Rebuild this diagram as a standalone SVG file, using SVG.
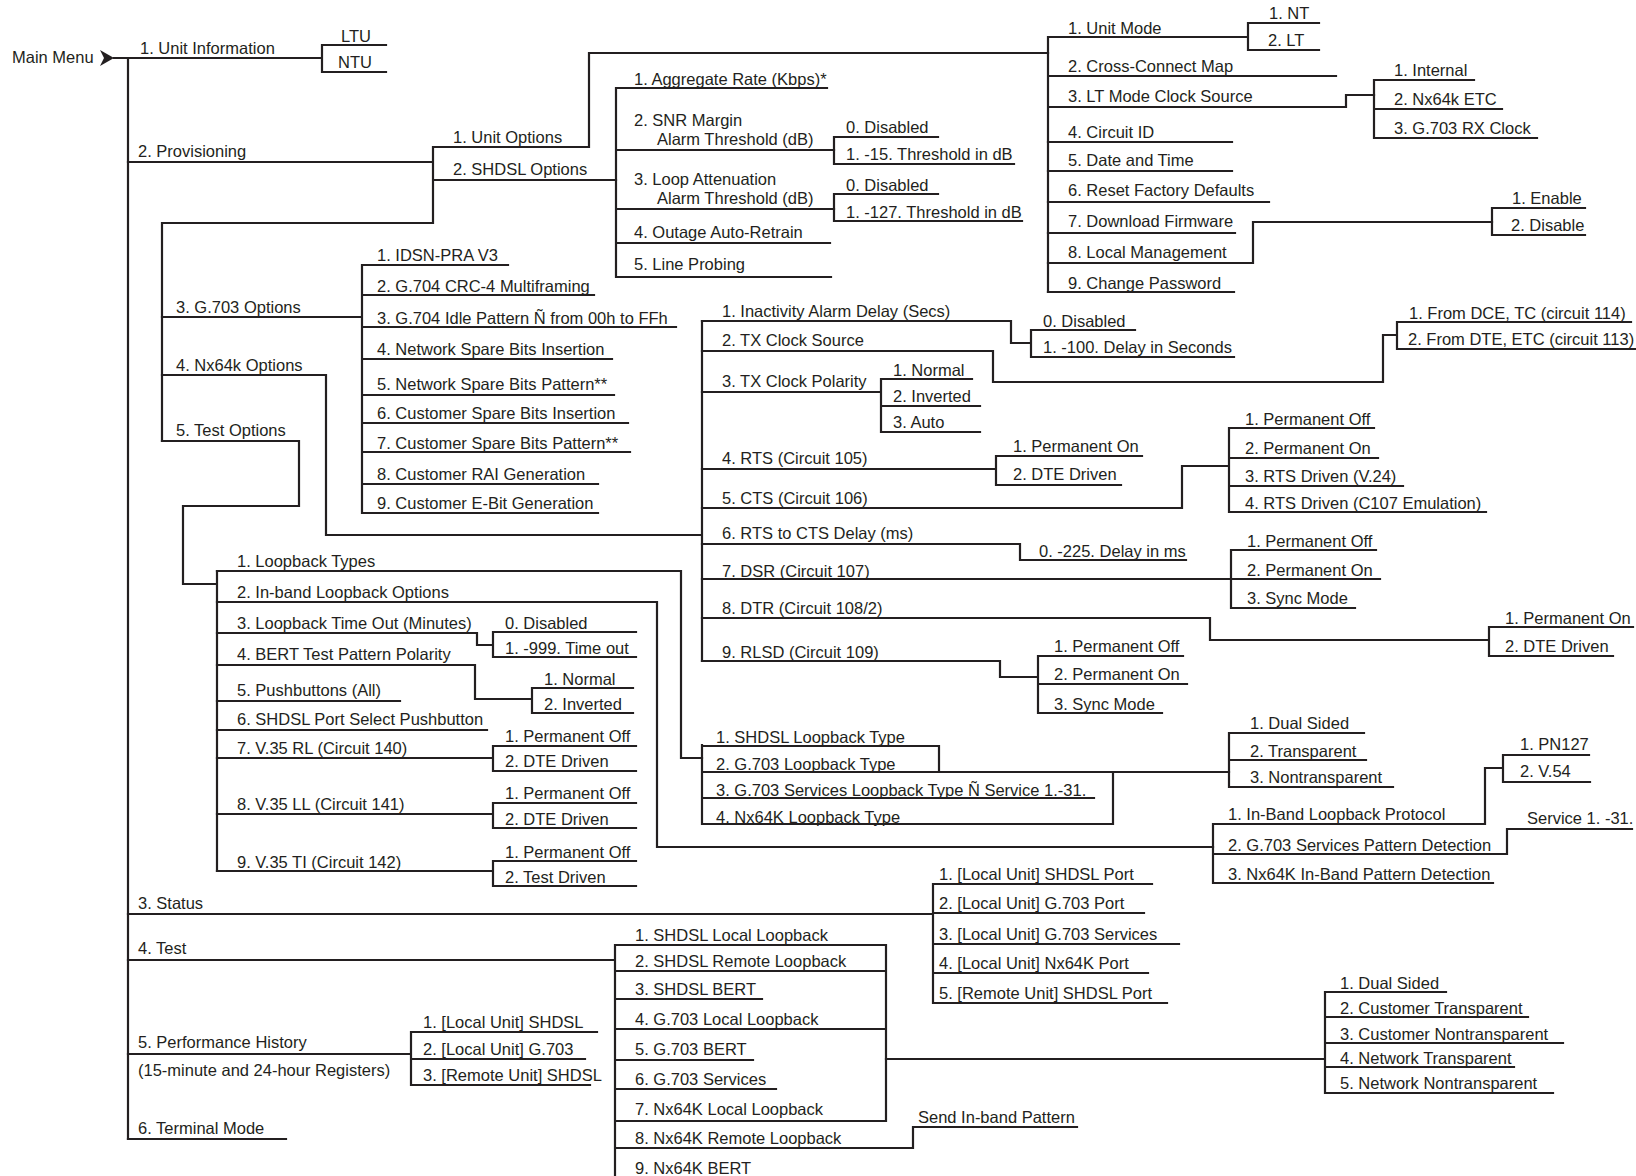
<svg xmlns="http://www.w3.org/2000/svg" width="1636" height="1176" viewBox="0 0 1636 1176">
<style>
text{font-family:"Liberation Sans",Arial,Helvetica,sans-serif;font-size:16.5px;fill:#231f20}
#connectors path{fill:none;stroke:#231f20;stroke-width:2.2;stroke-linejoin:miter;stroke-linecap:square}
</style>
<rect width="1636" height="1176" fill="#ffffff"/>
<g id="connectors">
<polygon points="100,50 114,58 100,66 104,58" fill="#231f20"/>
<path d="M114,58 H322 M128,58 V1139 M322,45 V72 M322,45 H386 M322,72 H386"/>
<path d="M128,162 H433 M433,147 V223 M162,223 H433 M162,223 V441 M433,147 H589 V53 H1048 M433,180 H616"/>
<path d="M616,88 V277 M616,88 H827 M616,150 H834 M616,209 H834 M616,243 H830 M616,277 H831"/>
<path d="M834,137 V164 M834,137 H938 M834,164 H1014 M834,194 V221 M834,194 H938 M834,221 H1022"/>
<path d="M1048,37 V292 M1048,37 H1248 M1248,23 V50 M1248,23 H1319 M1248,50 H1319 M1048,76 H1336 M1048,107 H1346 V95 H1374"/>
<path d="M1374,80 V138 M1374,80 H1474 M1374,109 H1502 M1374,138 H1537"/>
<path d="M1048,142 H1232 M1048,171 H1232 M1048,202 H1269 M1048,233 H1235 M1048,263 H1253 V222 H1492 M1048,292 H1234"/>
<path d="M1492,208 V235 M1492,208 H1585 M1492,235 H1585"/>
<path d="M162,317 H362 M362,265 V513 M362,265 H508 M362,295 H594 M362,327 H676 M362,359 H612 M362,395 H614 M362,423 H628 M362,452 H630 M362,484 H598 M362,513 H598"/>
<path d="M162,375 H326 V535 H702 M702,321 V661"/>
<path d="M702,321 H1011 V343 H1031 M1031,330 V357 M1031,330 H1135 M1031,357 H1234"/>
<path d="M702,351 H993 V382 H1383 V335 H1397 M1397,322 V349 M1397,322 H1631 M1397,349 H1636"/>
<path d="M702,392 H881 M881,379 V432 M881,379 H972 M881,406 H980 M881,432 H980"/>
<path d="M702,469 H996 M996,456 V485 M996,456 H1142 M996,485 H1121"/>
<path d="M702,508 H1182 V466 H1229 M1229,428 V512 M1229,428 H1374 M1229,458 H1378 M1229,486 H1403 M1229,512 H1486"/>
<path d="M702,544 H1020 V560 H1186"/>
<path d="M702,579 H1380 M1231,550 V608 M1231,550 H1376 M1231,608 H1355"/>
<path d="M702,618 H1210 V640 H1489 M1489,627 V656 M1489,627 H1633 M1489,656 H1613"/>
<path d="M702,661 H1000 V677 H1038 M1038,656 V713 M1038,656 H1183 M1038,684 H1187 M1038,713 H1162"/>
<path d="M162,441 H299 V506 H183 V584 H217 M217,571 V871"/>
<path d="M217,571 H681 V758 H702 M217,602 H657 V847 H1213"/>
<path d="M217,633 H477 V645 H493 M493,632 V657 M493,632 H636 M493,657 H636"/>
<path d="M217,665 H475 V699 H532 M532,688 V713 M532,688 H633 M532,713 H633"/>
<path d="M217,701 H400 M217,730 H487"/>
<path d="M217,758 H493 M493,746 V771 M493,746 H636 M493,771 H636"/>
<path d="M217,814 H493 M493,803 V828 M493,803 H636 M493,828 H636"/>
<path d="M217,871 H493 M493,861 V886 M493,861 H636 M493,886 H636"/>
<path d="M702,745 V824 M702,746 H939 V772 M702,772 H1229 M702,798 H1094 M702,824 H1113 V772"/>
<path d="M1229,733 V787 M1229,733 H1364 M1229,760 H1366 M1229,787 H1393"/>
<path d="M1213,824 V883 M1213,824 H1485 V768 H1503 M1503,755 V782 M1503,755 H1589 M1503,782 H1590 M1213,854 H1507 V829 H1632 M1213,883 H1493"/>
<path d="M128,914 H933 M933,884 V1003 M933,884 H1152 M933,913 H1144 M933,944 H1179 M933,973 H1148 M933,1003 H1167"/>
<path d="M128,960 H615 M615,945 V1176 M615,945 H886 M615,971 H886 M615,999 H762 M615,1029 H886 M615,1060 H753 M615,1089 H776 M615,1121 H886 M886,945 V1121 M615,1148 H913 V1127 H1077"/>
<path d="M886,1059 H1325 M1325,992 V1093 M1325,992 H1446 M1325,1017 H1528 M1325,1043 H1563 M1325,1067 H1514 M1325,1093 H1553"/>
<path d="M128,1054 H411 M411,1032 V1085 M411,1032 H597 M411,1059 H585 M411,1085 H590"/>
<path d="M128,1139 H286"/>
</g>
<g id="nodes" transform="translate(0,1.5)">
<g id="main-menu"><text x="12" y="61">Main Menu</text></g>
<g id="unit-information"><text x="140" y="52">1. Unit Information</text></g>
<g id="ltu"><text x="341" y="40.5">LTU</text></g>
<g id="ntu"><text x="338" y="66.5">NTU</text></g>
<g id="provisioning"><text x="138" y="155">2. Provisioning</text></g>
<g id="unit-options"><text x="453" y="141">1. Unit Options</text></g>
<g id="shdsl-options"><text x="453" y="173">2. SHDSL Options</text></g>
<g id="aggregate-rate"><text x="634" y="83">1. Aggregate Rate (Kbps)*</text></g>
<g id="snr-margin"><text x="634" y="124">2. SNR Margin</text><text x="657" y="143">Alarm Threshold (dB)</text></g>
<g id="loop-attenuation"><text x="634" y="183">3. Loop Attenuation</text><text x="657" y="202">Alarm Threshold (dB)</text></g>
<g id="outage-auto-retrain"><text x="634" y="236">4. Outage Auto-Retrain</text></g>
<g id="line-probing"><text x="634" y="268">5. Line Probing</text></g>
<g id="snr-disabled"><text x="846" y="131">0. Disabled</text></g>
<g id="snr-threshold"><text x="846" y="158">1. -15. Threshold in dB</text></g>
<g id="loop-disabled"><text x="846" y="189">0. Disabled</text></g>
<g id="loop-threshold"><text x="846" y="216">1. -127. Threshold in dB</text></g>
<g id="unit-mode"><text x="1068" y="32">1. Unit Mode</text></g>
<g id="nt"><text x="1269" y="17.5">1. NT</text></g>
<g id="lt"><text x="1268" y="44">2. LT</text></g>
<g id="cross-connect"><text x="1068" y="70">2. Cross-Connect Map</text></g>
<g id="lt-clock"><text x="1068" y="100">3. LT Mode Clock Source</text></g>
<g id="internal"><text x="1394" y="74">1. Internal</text></g>
<g id="nx64k-etc"><text x="1394" y="103">2. Nx64k ETC</text></g>
<g id="g703-rx"><text x="1394" y="132">3. G.703 RX Clock</text></g>
<g id="circuit-id"><text x="1068" y="136">4. Circuit ID</text></g>
<g id="date-time"><text x="1068" y="164">5. Date and Time</text></g>
<g id="reset-defaults"><text x="1068" y="194">6. Reset Factory Defaults</text></g>
<g id="download-fw"><text x="1068" y="225">7. Download Firmware</text></g>
<g id="local-mgmt"><text x="1068" y="256">8. Local Management</text></g>
<g id="enable"><text x="1512" y="202">1. Enable</text></g>
<g id="disable"><text x="1511" y="229">2. Disable</text></g>
<g id="change-password"><text x="1068" y="287">9. Change Password</text></g>
<g id="g703-options"><text x="176" y="311">3. G.703 Options</text></g>
<g id="g703-1"><text x="377" y="259">1. IDSN-PRA V3</text></g>
<g id="g703-2"><text x="377" y="290">2. G.704 CRC-4 Multiframing</text></g>
<g id="g703-3"><text x="377" y="322">3. G.704 Idle Pattern Ñ from 00h to FFh</text></g>
<g id="g703-4"><text x="377" y="353">4. Network Spare Bits Insertion</text></g>
<g id="g703-5"><text x="377" y="388">5. Network Spare Bits Pattern**</text></g>
<g id="g703-6"><text x="377" y="417">6. Customer Spare Bits Insertion</text></g>
<g id="g703-7"><text x="377" y="447">7. Customer Spare Bits Pattern**</text></g>
<g id="g703-8"><text x="377" y="478">8. Customer RAI Generation</text></g>
<g id="g703-9"><text x="377" y="507">9. Customer E-Bit Generation</text></g>
<g id="nx64k-options"><text x="176" y="369">4. Nx64k Options</text></g>
<g id="inactivity"><text x="722" y="315">1. Inactivity Alarm Delay (Secs)</text></g>
<g id="inact-disabled"><text x="1043" y="325">0. Disabled</text></g>
<g id="inact-delay"><text x="1043" y="351">1. -100. Delay in Seconds</text></g>
<g id="tx-clock-source"><text x="722" y="344">2. TX Clock Source</text></g>
<g id="from-dce"><text x="1409" y="317">1. From DCE, TC (circuit 114)</text></g>
<g id="from-dte"><text x="1408" y="343">2. From DTE, ETC (circuit 113)</text></g>
<g id="tx-clock-polarity"><text x="722" y="385">3. TX Clock Polarity</text></g>
<g id="pol-normal"><text x="893" y="374">1. Normal</text></g>
<g id="pol-inverted"><text x="893" y="400">2. Inverted</text></g>
<g id="pol-auto"><text x="893" y="426">3. Auto</text></g>
<g id="rts"><text x="722" y="462">4. RTS (Circuit 105)</text></g>
<g id="rts-on"><text x="1013" y="450">1. Permanent On</text></g>
<g id="rts-dte"><text x="1013" y="478">2. DTE Driven</text></g>
<g id="cts"><text x="722" y="502">5. CTS (Circuit 106)</text></g>
<g id="cts-1"><text x="1245" y="423">1. Permanent Off</text></g>
<g id="cts-2"><text x="1245" y="452">2. Permanent On</text></g>
<g id="cts-3"><text x="1245" y="480">3. RTS Driven (V.24)</text></g>
<g id="cts-4"><text x="1245" y="507">4. RTS Driven (C107 Emulation)</text></g>
<g id="rts-cts-delay"><text x="722" y="537">6. RTS to CTS Delay (ms)</text></g>
<g id="delay-ms"><text x="1039" y="555">0. -225. Delay in ms</text></g>
<g id="dsr"><text x="722" y="575">7. DSR (Circuit 107)</text></g>
<g id="dsr-1"><text x="1247" y="545">1. Permanent Off</text></g>
<g id="dsr-2"><text x="1247" y="574">2. Permanent On</text></g>
<g id="dsr-3"><text x="1247" y="602">3. Sync Mode</text></g>
<g id="dtr"><text x="722" y="612">8. DTR (Circuit 108/2)</text></g>
<g id="dtr-1"><text x="1505" y="622">1. Permanent On</text></g>
<g id="dtr-2"><text x="1505" y="650">2. DTE Driven</text></g>
<g id="rlsd"><text x="722" y="656">9. RLSD (Circuit 109)</text></g>
<g id="rlsd-1"><text x="1054" y="650">1. Permanent Off</text></g>
<g id="rlsd-2"><text x="1054" y="678">2. Permanent On</text></g>
<g id="rlsd-3"><text x="1054" y="708">3. Sync Mode</text></g>
<g id="test-options"><text x="176" y="434">5. Test Options</text></g>
<g id="loopback-types"><text x="237" y="565">1. Loopback Types</text></g>
<g id="inband-options"><text x="237" y="596">2. In-band Loopback Options</text></g>
<g id="loopback-timeout"><text x="237" y="627">3. Loopback Time Out (Minutes)</text></g>
<g id="to-disabled"><text x="505" y="627">0. Disabled</text></g>
<g id="to-timeout"><text x="505" y="652">1. -999. Time out</text></g>
<g id="bert-polarity"><text x="237" y="658">4. BERT Test Pattern Polarity</text></g>
<g id="bp-normal"><text x="544" y="683">1. Normal</text></g>
<g id="bp-inverted"><text x="544" y="708">2. Inverted</text></g>
<g id="pushbuttons"><text x="237" y="694">5. Pushbuttons (All)</text></g>
<g id="port-select"><text x="237" y="723">6. SHDSL Port Select Pushbutton</text></g>
<g id="v35-rl"><text x="237" y="752">7. V.35 RL (Circuit 140)</text></g>
<g id="rl-1"><text x="505" y="740">1. Permanent Off</text></g>
<g id="rl-2"><text x="505" y="765">2. DTE Driven</text></g>
<g id="v35-ll"><text x="237" y="808">8. V.35 LL (Circuit 141)</text></g>
<g id="ll-1"><text x="505" y="797">1. Permanent Off</text></g>
<g id="ll-2"><text x="505" y="823">2. DTE Driven</text></g>
<g id="v35-ti"><text x="237" y="866">9. V.35 TI (Circuit 142)</text></g>
<g id="ti-1"><text x="505" y="856">1. Permanent Off</text></g>
<g id="ti-2"><text x="505" y="881">2. Test Driven</text></g>
<g id="lt-shdsl"><text x="716" y="741">1. SHDSL Loopback Type</text></g>
<g id="lt-g703"><text x="716" y="768">2. G.703 Loopback Type</text></g>
<g id="lt-g703-services"><text x="716" y="794">3. G.703 Services Loopback Type Ñ Service 1.-31.</text></g>
<g id="lt-nx64k"><text x="716" y="821">4. Nx64K Loopback Type</text></g>
<g id="dual-sided"><text x="1250" y="727">1. Dual Sided</text></g>
<g id="transparent"><text x="1250" y="755">2. Transparent</text></g>
<g id="nontransparent"><text x="1250" y="781">3. Nontransparent</text></g>
<g id="inband-protocol"><text x="1228" y="818">1. In-Band Loopback Protocol</text></g>
<g id="pn127"><text x="1520" y="748">1. PN127</text></g>
<g id="v54"><text x="1520" y="775">2. V.54</text></g>
<g id="g703-pattern"><text x="1228" y="849">2. G.703 Services Pattern Detection</text></g>
<g id="service-1-31"><text x="1527" y="822">Service 1. -31.</text></g>
<g id="nx64k-pattern"><text x="1228" y="878">3. Nx64K In-Band Pattern Detection</text></g>
<g id="status"><text x="138" y="907">3. Status</text></g>
<g id="st-1"><text x="939" y="878">1. [Local Unit] SHDSL Port</text></g>
<g id="st-2"><text x="939" y="907">2. [Local Unit] G.703 Port</text></g>
<g id="st-3"><text x="939" y="938">3. [Local Unit] G.703 Services</text></g>
<g id="st-4"><text x="939" y="967">4. [Local Unit] Nx64K Port</text></g>
<g id="st-5"><text x="939" y="997">5. [Remote Unit] SHDSL Port</text></g>
<g id="test"><text x="138" y="952">4. Test</text></g>
<g id="t-1"><text x="635" y="939">1. SHDSL Local Loopback</text></g>
<g id="t-2"><text x="635" y="965">2. SHDSL Remote Loopback</text></g>
<g id="t-3"><text x="635" y="993">3. SHDSL BERT</text></g>
<g id="t-4"><text x="635" y="1023">4. G.703 Local Loopback</text></g>
<g id="t-5"><text x="635" y="1053">5. G.703 BERT</text></g>
<g id="t-6"><text x="635" y="1083">6. G.703 Services</text></g>
<g id="t-7"><text x="635" y="1113">7. Nx64K Local Loopback</text></g>
<g id="t-8"><text x="635" y="1142">8. Nx64K Remote Loopback</text></g>
<g id="t-9"><text x="635" y="1172">9. Nx64K BERT</text></g>
<g id="send-inband"><text x="918" y="1121">Send In-band Pattern</text></g>
<g id="lb-1"><text x="1340" y="987">1. Dual Sided</text></g>
<g id="lb-2"><text x="1340" y="1012">2. Customer Transparent</text></g>
<g id="lb-3"><text x="1340" y="1038">3. Customer Nontransparent</text></g>
<g id="lb-4"><text x="1340" y="1062">4. Network Transparent</text></g>
<g id="lb-5"><text x="1340" y="1087">5. Network Nontransparent</text></g>
<g id="performance"><text x="138" y="1046">5. Performance History</text><text x="138" y="1074">(15-minute and 24-hour Registers)</text></g>
<g id="ph-1"><text x="423" y="1026">1. [Local Unit] SHDSL</text></g>
<g id="ph-2"><text x="423" y="1053">2. [Local Unit] G.703</text></g>
<g id="ph-3"><text x="423" y="1079">3. [Remote Unit] SHDSL</text></g>
<g id="terminal-mode"><text x="138" y="1132">6. Terminal Mode</text></g>
</g>
</svg>
